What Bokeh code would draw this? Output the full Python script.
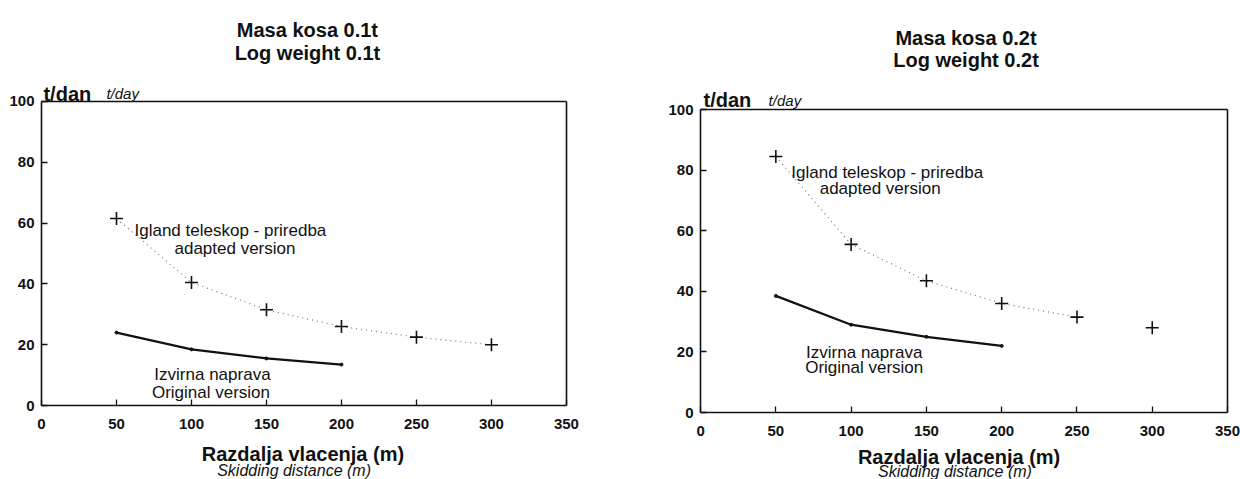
from bokeh.plotting import figure
from bokeh.layouts import row
from bokeh.models import Range1d, FixedTicker, Label, LinearAxis
from bokeh.embed import file_html
from bokeh.resources import INLINE

# ---- data ----
distance = [50, 100, 150, 200, 250, 300]
original_distance = [50, 100, 150, 200]
adapted_01 = [61.5, 40.5, 31.5, 26, 22.5, 20]
original_01 = [24, 18.5, 15.5, 13.5]
adapted_02 = [84.5, 55.5, 43.5, 36, 31.5, 28]
original_02 = [38.5, 29, 25, 22]
x_ticks = [0, 50, 100, 150, 200, 250, 300, 350]
y_ticks = [0, 20, 40, 60, 80, 100]

titles_01 = ["Masa kosa 0.1t", "Log weight 0.1t"]
titles_02 = ["Masa kosa 0.2t", "Log weight 0.2t"]
y_title = ["t/dan", "t/day"]
x_title = ["Razdalja vlacenja (m)", "Skidding distance (m)"]
adapted_text = ["Igland teleskop - priredba", "adapted version"]
original_text = ["Izvirna naprava", "Original version"]

FONT = "Liberation Sans"
INK = "#111111"


def panel(width, height, xr, yr, adapted, original, titles, adapted_n, ann):
    p = figure(width=width, height=height, output_backend="svg",
               toolbar_location=None,
               x_range=Range1d(*xr), y_range=Range1d(*yr), min_border=0)
    p.grid.visible = False
    p.outline_line_color = None
    p.background_fill_color = "white"
    p.border_fill_color = "white"

    xmin, xmax = x_ticks[0], x_ticks[-1]
    ymin, ymax = y_ticks[0], y_ticks[-1]
    xax = p.below[0]
    yax = p.left[0]
    xax.fixed_location = ymin
    yax.fixed_location = xmin
    xax.bounds = (xmin, xmax)
    yax.bounds = (ymin, ymax)
    xax.ticker = FixedTicker(ticks=x_ticks)
    yax.ticker = FixedTicker(ticks=y_ticks)
    xax.major_label_standoff = 13
    yax.major_label_standoff = 7

    top = LinearAxis(fixed_location=ymax, bounds=(xmin, xmax),
                     ticker=FixedTicker(ticks=[]))
    right = LinearAxis(fixed_location=xmax, bounds=(ymin, ymax),
                       ticker=FixedTicker(ticks=[]))
    p.add_layout(top, "above")
    p.add_layout(right, "right")

    for ax in (xax, yax, top, right):
        ax.axis_line_color = INK
        ax.axis_line_width = 1.6
        ax.major_tick_line_color = INK
        ax.major_tick_line_width = 1.3
        ax.major_tick_in = 6
        ax.major_tick_out = 0
        ax.minor_tick_line_color = None
        ax.major_label_text_font = FONT
        ax.major_label_text_font_style = "bold"
        ax.major_label_text_font_size = "15px"
        ax.major_label_text_color = INK
    for ax in (top, right):
        ax.major_tick_line_color = None
        ax.major_label_text_color = None

    # adapted version: dotted curve + crosses
    p.line(distance[:adapted_n], adapted[:adapted_n], line_color="#777777",
           line_width=1.2, line_dash="1 4")
    p.scatter(distance, adapted, marker="cross", size=13,
              line_color=INK, line_width=1.6)
    # original version: solid line
    p.line(original_distance, original, line_color=INK, line_width=2.2)
    p.scatter(original_distance, original, marker="circle", size=3,
              fill_color=INK, line_color=INK)

    def lab(x, y, text, size, style="normal", align="left"):
        p.add_layout(Label(x=x, y=y, text=text, text_font=FONT,
                           text_font_size=size, text_font_style=style,
                           text_color=INK, text_align=align,
                           text_baseline="alphabetic"))

    tx, ty1, ty2 = ann["title"]
    lab(tx, ty1, titles[0], "20px", "bold", "center")
    lab(tx, ty2, titles[1], "20px", "bold", "center")
    dx, dday, dyy = ann["ytitle"]
    lab(dx, dyy, y_title[0], "20px", "bold")
    lab(dday, dyy, y_title[1], "15px", "italic")
    rx, ry, sx, sy = ann["xtitle"]
    lab(rx, ry, x_title[0], "20px", "bold", "center")
    lab(sx, sy, x_title[1], "16px", "italic", "center")
    ax_, ay_ = ann["adapted1"]
    lab(ax_, ay_, adapted_text[0], "17px")
    bx_, by_ = ann["adapted2"]
    lab(bx_, by_, adapted_text[1], "17px", align="center")
    cx_, cy_ = ann["orig1"]
    lab(cx_, cy_, original_text[0], "17px", align="center")
    ex_, ey_ = ann["orig2"]
    lab(ex_, ey_, original_text[1], "17px", align="center")
    return p


ann1 = dict(title=(177.3, 123.4, 115.9), ytitle=(1.3, 43.3, 102.6),
            xtitle=(174.3, -15.9, 168.4, -21.4),
            adapted1=(62, 57.6), adapted2=(129, 51.6),
            orig1=(114, 10.2), orig2=(113, 4.3))
ann2 = dict(title=(176.3, 123.7, 116.2), ytitle=(2.0, 45.2, 103.0),
            xtitle=(171.7, -14.6, 169, -19.3),
            adapted1=(60.3, 79.3), adapted2=(119.3, 73.9),
            orig1=(108.7, 19.9), orig2=(108.7, 14.9))

p1 = panel(660, 479, (-27.33, 412.7), (-24.3, 133.2),
           adapted_01, original_01, titles_01, 6, ann1)
p2 = panel(580, 479, (-26.6, 358.6), (-22.1, 136.0),
           adapted_02, original_02, titles_02, 5, ann2)

layout = row(p1, p2)
open("out.html", "w").write(file_html(layout, INLINE))
